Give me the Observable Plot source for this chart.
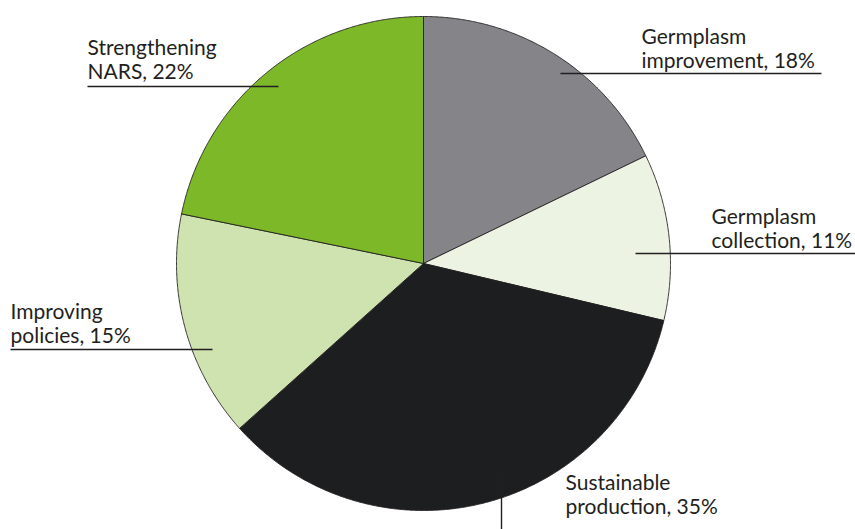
<!DOCTYPE html>
<html>
<head>
<meta charset="utf-8">
<script src="https://cdn.jsdelivr.net/npm/d3@7"></script>
<script src="https://cdn.jsdelivr.net/npm/@observablehq/plot@0.6"></script>
<style>
  html, body { margin: 0; padding: 0; background: #fff; }
  #chart svg { display: block; }
</style>
</head>
<body>
<div id="chart"></div>
<script>
// ---- data ----
const categories = ["Germplasm improvement", "Germplasm collection", "Sustainable production", "Improving policies", "Strengthening NARS"];
const shares = [18, 11, 35, 15, 22];
const labelTexts = ["Germplasm\nimprovement, 18%", "Germplasm\ncollection, 11%", "Sustainable\nproduction, 35%", "Improving\npolicies, 15%", "Strengthening\nNARS, 22%"];
const colors = ["#858489", "#edf3e3", "#1d1e20", "#cfe3b0", "#7db828"];

// ---- layout ----
const W = 855, H = 529;
const cx = 423, cy = 263, R = 247;
// label layout: text anchor point and leader line
const labelLayout = [
  {tx: 641, ty: 67,  x1: 560, y1: 73,  x2: 821, y2: 73},
  {tx: 711, ty: 247, x1: 635, y1: 253, x2: 855, y2: 253},
  {tx: 565, ty: 513, x1: 501, y1: 470, x2: 501, y2: 529},
  {tx: 10,  ty: 342, x1: 10,  y1: 349, x2: 212, y2: 349},
  {tx: 87,  ty: 78,  x1: 87,  y1: 86,  x2: 278, y2: 86}
];

const arcs = d3.pie().sort(null).value(d => d)(shares);
const slicePts = [];
arcs.forEach((a, i) => {
  slicePts.push({cat: categories[i], x: cx, y: cy});
  const n = Math.max(4, Math.ceil((a.endAngle - a.startAngle) / 0.005));
  for (let k = 0; k <= n; k++) {
    const t = a.startAngle + (a.endAngle - a.startAngle) * k / n;
    slicePts.push({cat: categories[i], x: cx + R * Math.sin(t), y: cy - R * Math.cos(t)});
  }
  slicePts.push({cat: categories[i], x: cx, y: cy});
});

const labels = categories.map((c, i) => ({cat: c, text: labelTexts[i], ...labelLayout[i]}));

const chart = Plot.plot({
  width: W,
  height: H,
  margin: 0,
  style: {background: "#fff", fontFamily: "Lato, 'Open Sans', sans-serif"},
  x: {domain: [0, W], range: [0, W], axis: null},
  y: {domain: [0, H], range: [0, H], axis: null},
  color: {domain: categories, range: colors},
  marks: [
    Plot.line(slicePts, {x: "x", y: "y", z: "cat", fill: "cat", stroke: "#231f20", strokeWidth: 0.9, curve: "linear"}),
    Plot.link(labels, {x1: "x1", y1: "y1", x2: "x2", y2: "y2", stroke: "#231f20", strokeWidth: 1.4}),
    Plot.text(labels, {x: "tx", y: "ty", text: "text", textAnchor: "start", lineAnchor: "bottom", lineHeight: 1.1, fontSize: 21, fill: "#231f20"})
  ]
});
document.getElementById("chart").appendChild(chart);
</script>
</body>
</html>
